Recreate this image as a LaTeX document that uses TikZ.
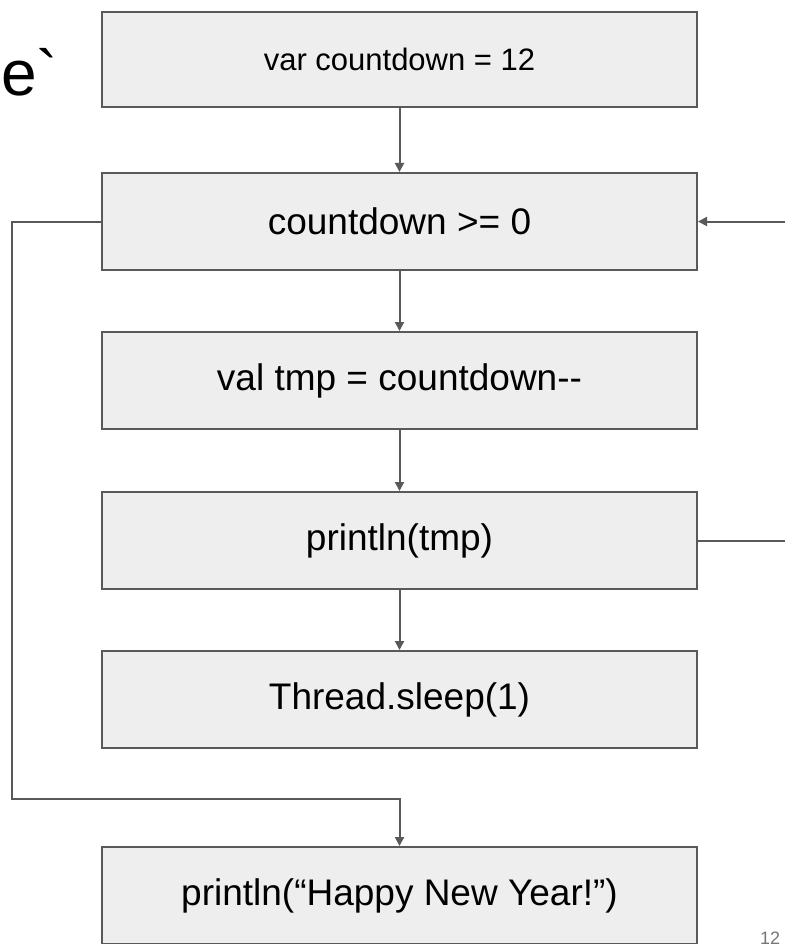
\documentclass[tikz,border=0pt]{standalone}
\usepackage{fontspec}
\setmainfont{Liberation Sans}[Ligatures=TeXOff]
\usetikzlibrary{arrows.meta}
\definecolor{boxfill}{HTML}{EEEEEE}
\definecolor{lncol}{HTML}{595959}
\definecolor{numcol}{HTML}{757575}
\tikzset{
  stepbox/.style={draw=lncol, fill=boxfill, line width=2pt, minimum width=595pt, minimum height=97pt, inner sep=0pt, font=\fontsize{37}{42}\selectfont},
  conn/.style={draw=lncol, line width=2pt},
  arr/.style={conn, -{Triangle[length=9pt,width=9pt]}}
}
\begin{document}
\begin{tikzpicture}[x=1pt,y=-1pt]
\useasboundingbox (0,0) rectangle (784,944);
\node[anchor=base west, font=\fontsize{64}{70}\selectfont, inner sep=0pt] (title) at (1,96) {e`};
\node[stepbox, minimum height=95pt, font=\fontsize{31}{36}\selectfont] (b1) at (399.5,59.5) {var countdown = 12};
\node[stepbox] (b2) at (399.5,221.5) {countdown >= 0};
\node[stepbox] (b3) at (399.5,380.5) {val tmp = countdown--};
\node[stepbox] (b4) at (399.5,540.5) {println(tmp)};
\node[stepbox] (b5) at (399.5,699.5) {Thread.sleep(1)};
\node[stepbox] (b6) at (399.5,895.5) {println(“Happy New Year!”)};
\node[anchor=base west, font=\fontsize{18}{20}\selectfont, text=numcol, inner sep=0pt] (num) at (760,944) {12};
\coordinate (lc) at (12,799);
\coordinate (rc) at (800,540.5);
\draw[arr] (b1.south) -- (b2.north);
\draw[arr] (b2.south) -- (b3.north);
\draw[arr] (b3.south) -- (b4.north);
\draw[arr] (b4.south) -- (b5.north);
\draw[arr] (b2.west) -| (lc) -| (b6.north);
\draw[arr] (b4.east) -- (rc) |- (b2.east);
\end{tikzpicture}
\end{document}
